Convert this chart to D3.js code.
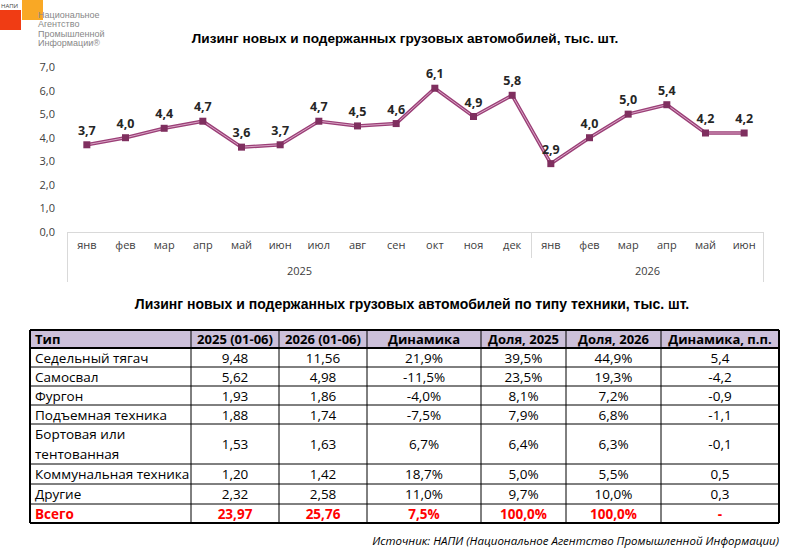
<!DOCTYPE html><html><head><meta charset="utf-8"><script src="https://cdn.jsdelivr.net/npm/d3@7"></script>
<style>body{margin:0;background:#fff;font-family:"Open Sans",sans-serif}</style></head><body><svg id="c" width="800" height="556"></svg><script>
const months=["янв","фев","мар","апр","май","июн","июл","авг","сен","окт","ноя","дек","янв","фев","мар","апр","май","июн"];
const years=[{y:"2025",n:12},{y:"2026",n:6}];
const values=[3.7,4.0,4.4,4.7,3.6,3.7,4.7,4.5,4.6,6.1,4.9,5.8,2.9,4.0,5.0,5.4,4.2,4.2];
const yTicks=[0,1,2,3,4,5,6,7];
const header=["Тип","2025 (01-06)","2026 (01-06)","Динамика","Доля, 2025","Доля, 2026","Динамика, п.п."];
const rows=[["Седельный тягач","9,48","11,56","21,9%","39,5%","44,9%","5,4"],
["Самосвал","5,62","4,98","-11,5%","23,5%","19,3%","-4,2"],
["Фургон","1,93","1,86","-4,0%","8,1%","7,2%","-0,9"],
["Подъемная техника","1,88","1,74","-7,5%","7,9%","6,8%","-1,1"],
["Бортовая или|тентованная","1,53","1,63","6,7%","6,4%","6,3%","-0,1"],
["Коммунальная техника","1,20","1,42","18,7%","5,0%","5,5%","0,5"],
["Другие","2,32","2,58","11,0%","9,7%","10,0%","0,3"]];
const total=["Всего","23,97","25,76","7,5%","100,0%","100,0%","-"];
const svg=d3.select("#c");
const LS="Liberation Sans, Arial, sans-serif";
// logo
svg.append("rect").attr("x",0).attr("y",10).attr("width",21).attr("height",20).attr("fill","#f03c14");
svg.append("rect").attr("x",22).attr("y",0).attr("width",21).attr("height",20).attr("fill","#f9a825");
svg.append("text").attr("x",1).attr("y",8).attr("font-size",6).attr("fill","#444").text("НАПИ");
["Национальное","Агентство","Промышленной","Информации®"].forEach((t,i)=>svg.append("text").attr("x",38).attr("y",18+i*9.3).attr("font-size",9).attr("fill","#888").attr("font-family","Liberation Sans Narrow,Arial Narrow,sans-serif").text(t));
svg.append("text").attr("x",405).attr("y",43).attr("text-anchor","middle").attr("font-family",LS).attr("font-size",13.6).attr("font-weight","bold").text("Лизинг новых и подержанных грузовых автомобилей, тыс. шт.");
const x=d3.scaleBand().domain(d3.range(18)).range([67.5,763.5]);
const y=d3.scaleLinear().domain([0,7]).range([232,67]);
svg.append("g").selectAll("text").data(yTicks).join("text").attr("x",55).attr("y",d=>y(d)+4).attr("text-anchor","end").attr("font-size",11).attr("fill","#404040").text(d=>d.toFixed(1).replace(".",","));
svg.append("line").attr("x1",67.5).attr("x2",763.5).attr("y1",232.5).attr("y2",232.5).attr("stroke","#d9d9d9");
svg.append("g").selectAll("text").data(months).join("text").attr("x",(d,i)=>x(i)+x.bandwidth()/2).attr("y",249).attr("text-anchor","middle").attr("font-size",11).attr("fill","#404040").text(d=>d);
let acc=0;const seps=[0];years.forEach(g=>{const x0=x(acc),x1=x(acc+g.n-1)+x.bandwidth();svg.append("text").attr("x",(x0+x1)/2).attr("y",275).attr("text-anchor","middle").attr("font-size",11).attr("fill","#404040").text(g.y);acc+=g.n;seps.push(acc);});
seps.forEach(s=>{const xx=s<18?x(s):x(17)+x.bandwidth();svg.append("line").attr("x1",xx).attr("x2",xx).attr("y1",232).attr("y2",s==0||s==18?282:258).attr("stroke","#d9d9d9");});
const line=d3.line().x((d,i)=>x(i)+x.bandwidth()/2).y(d=>y(d));
svg.append("path").datum(values).attr("d",line).attr("fill","none").attr("stroke","#9b3f77").attr("stroke-width",3.5);
svg.append("path").datum(values).attr("d",line).attr("fill","none").attr("stroke","#d9a6c6").attr("stroke-width",1);
svg.append("g").selectAll("rect").data(values).join("rect").attr("x",(d,i)=>x(i)+x.bandwidth()/2-3.5).attr("y",d=>y(d)-3.5).attr("width",7).attr("height",7).attr("fill","#7f2f5f");
svg.append("g").selectAll("text").data(values).join("text").attr("x",(d,i)=>x(i)+x.bandwidth()/2).attr("y",d=>y(d)-10).attr("text-anchor","middle").attr("font-size",12.5).attr("font-weight","bold").attr("fill","#262626").text(d=>d.toFixed(1).replace(".",","));
svg.append("text").attr("x",412).attr("y",309).attr("text-anchor","middle").attr("font-family",LS).attr("font-size",14).attr("font-weight","bold").text("Лизинг новых и подержанных грузовых автомобилей по типу техники, тыс. шт.");
// table
const cx=[30,191,279,367,481,566,661,779];
const ry=[330,348,367,386,405,424,464,484,504,523];
svg.append("rect").attr("x",30).attr("y",330).attr("width",749).attr("height",18).attr("fill","#ccc0da");
const all=[header,...rows,total];
all.forEach((r,ri)=>{r.forEach((t,ci)=>{const isT=ri==all.length-1,isH=ri==0;const lines=t.split("|");const yc=(ry[ri]+ry[ri+1])/2;
lines.forEach((l,li)=>svg.append("text").attr("x",ci==0?cx[0]+5:(cx[ci]+cx[ci+1])/2).attr("y",yc+5+(li-(lines.length-1)/2)*20).attr("text-anchor",ci==0?"start":"middle").attr("font-size",isH?13:13.5).attr("font-weight",isH||isT?"bold":"normal").attr("fill",isT?"#ff0000":"#000").text(l));});});
ry.forEach((v,i)=>svg.append("line").attr("x1",30).attr("x2",779).attr("y1",v).attr("y2",v).attr("stroke","#000").attr("stroke-width",i==0||i==1||i==ry.length-1?2:1));
cx.forEach((v,i)=>svg.append("line").attr("x1",v).attr("x2",v).attr("y1",330).attr("y2",523).attr("stroke","#000").attr("stroke-width",i==0||i==cx.length-1?2:1));
svg.append("text").attr("x",779).attr("y",545).attr("text-anchor","end").attr("font-size",11.5).attr("font-style","italic").text("Источник: НАПИ (Национальное Агентство Промышленной Информации)");
</script></body></html>
